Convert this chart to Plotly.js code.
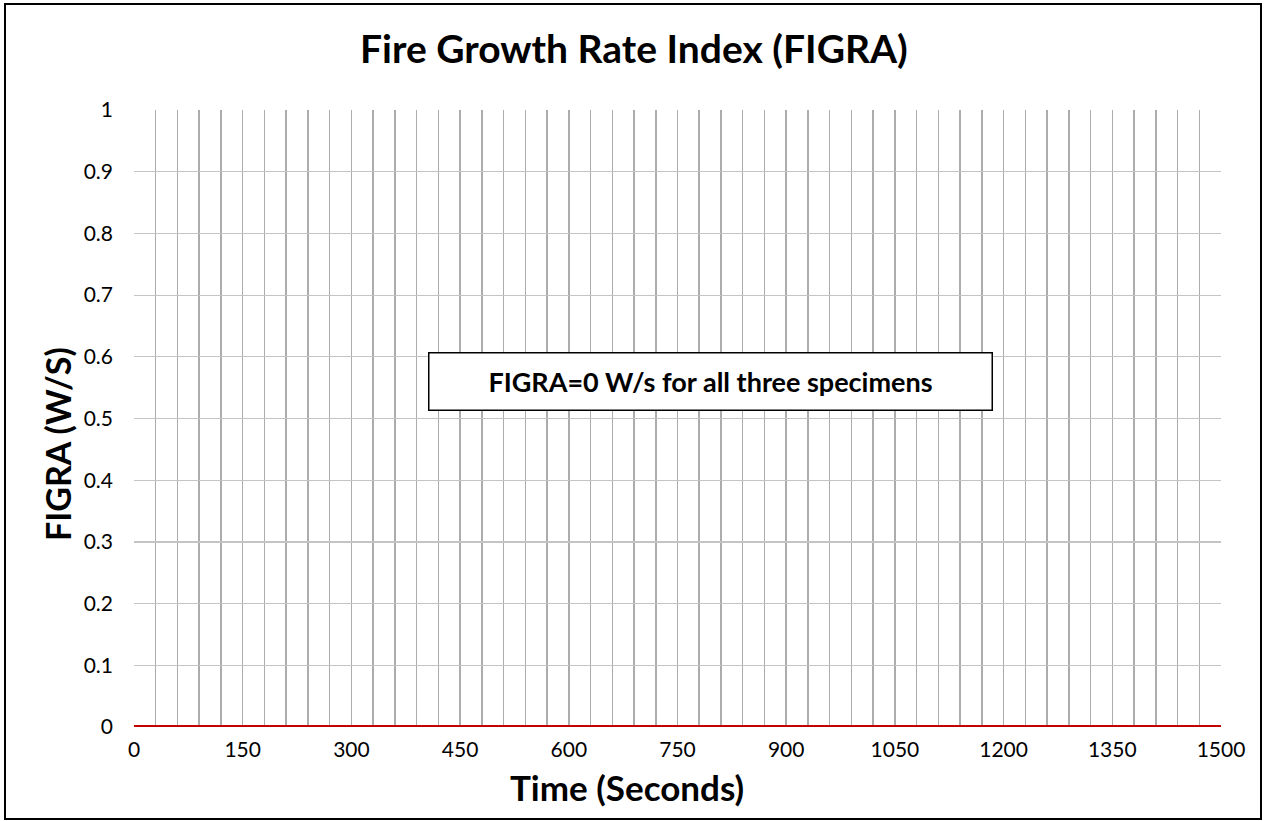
<!DOCTYPE html>
<html>
<head>
<meta charset="utf-8">
<script src="https://cdn.plot.ly/plotly-3.0.1.min.js"></script>
<style>html,body{margin:0;padding:0;background:#fff;}#chart{width:1264px;height:821px;}</style>
</head>
<body>
<div id="chart"></div>
<script>
// Data
const specimenNames = ["Specimen 1", "Specimen 2", "Specimen 3"];
const timeSeconds = [0, 1500];
const figraSpecimen1 = [0, 0];
const figraSpecimen2 = [0, 0];
const figraSpecimen3 = [0, 0];
const xTickVals = [0, 150, 300, 450, 600, 750, 900, 1050, 1200, 1350, 1500];
const yTickVals = [0, 0.1, 0.2, 0.3, 0.4, 0.5, 0.6, 0.7, 0.8, 0.9, 1];
const yTickText = ["0", "0.1", "0.2", "0.3", "0.4", "0.5", "0.6", "0.7", "0.8", "0.9", "1"];
const titleText = "Fire Growth Rate Index (FIGRA)";
const xTitleText = "Time (Seconds)";
const yTitleText = "FIGRA (W/S)";
const noteText = "FIGRA=0 W/s for all three specimens";

const FONT = "Lato, 'Open Sans', sans-serif";
const seriesY = [figraSpecimen1, figraSpecimen2, figraSpecimen3];
const seriesColors = ["#c00000", "#c00000", "#c00000"];

const traces = seriesY.map((ys, i) => ({
  x: timeSeconds, y: ys, name: specimenNames[i], type: "scatter", mode: "lines",
  line: {color: seriesColors[i], width: 3.5}, cliponaxis: false
}));

const L = 134, R = 1221, T = 110, B = 727, W = 1264, H = 821;
const pw = R - L, ph = B - T;
const px = v => (v - L) / pw;
const py = v => (B - v) / ph;

const layout = {
  width: W, height: H,
  margin: {l: L, r: W - R, t: T, b: H - B, pad: 0},
  paper_bgcolor: "#ffffff", plot_bgcolor: "#ffffff",
  showlegend: false,
  font: {family: FONT, color: "#000000", size: 21},
  xaxis: {
    range: [0, 1500], tickvals: xTickVals, ticktext: xTickVals.map(String),
    showgrid: true, gridcolor: "#acacac", gridwidth: 1.5,
    minor: {dtick: 30, showgrid: true, gridcolor: "#acacac", gridwidth: 1.5, ticks: ""},
    zeroline: false, showline: false, ticks: "", ticklabelstandoff: 8,
    tickfont: {family: FONT, size: 21, color: "#000"}, fixedrange: true
  },
  yaxis: {
    range: [0, 1], tickvals: yTickVals, ticktext: yTickText,
    showgrid: true, gridcolor: "#c4c4c4", gridwidth: 1.2,
    zeroline: false, showline: false, ticks: "", ticklabelstandoff: 20,
    tickfont: {family: FONT, size: 21, color: "#000"}, fixedrange: true
  },
  annotations: [
    {text: "<b>" + titleText + "</b>", xref: "paper", yref: "paper", x: px(634), y: py(48),
     xanchor: "center", yanchor: "middle", showarrow: false, font: {family: FONT, size: 39, color: "#000"}},
    {text: "<b>" + xTitleText + "</b>", xref: "paper", yref: "paper", x: px(626.5), y: py(787),
     xanchor: "center", yanchor: "middle", showarrow: false, font: {family: FONT, size: 35, color: "#000"}},
    {text: "<b>" + yTitleText + "</b>", xref: "paper", yref: "paper", x: px(57), y: py(444),
     xanchor: "center", yanchor: "middle", showarrow: false, textangle: -90, font: {family: FONT, size: 34, color: "#000"}},
    {text: "<b>" + noteText + "</b>", xref: "paper", yref: "paper", x: px(710.5), y: py(381.5),
     xanchor: "center", yanchor: "middle", showarrow: false, font: {family: FONT, size: 27, color: "#000"},
     bgcolor: "#ffffff", bordercolor: "#000000", borderwidth: 1.5, borderpad: 0, width: 562, height: 56, align: "center", valign: "middle"}
  ],
  shapes: [
    {type: "rect", xref: "paper", yref: "paper", x0: px(5), x1: px(1261), y0: py(819), y1: py(4),
     line: {color: "#000000", width: 2}, fillcolor: "rgba(0,0,0,0)", layer: "above"}
  ]
};

Plotly.newPlot("chart", traces, layout, {displayModeBar: false, staticPlot: true});
</script>
</body>
</html>
